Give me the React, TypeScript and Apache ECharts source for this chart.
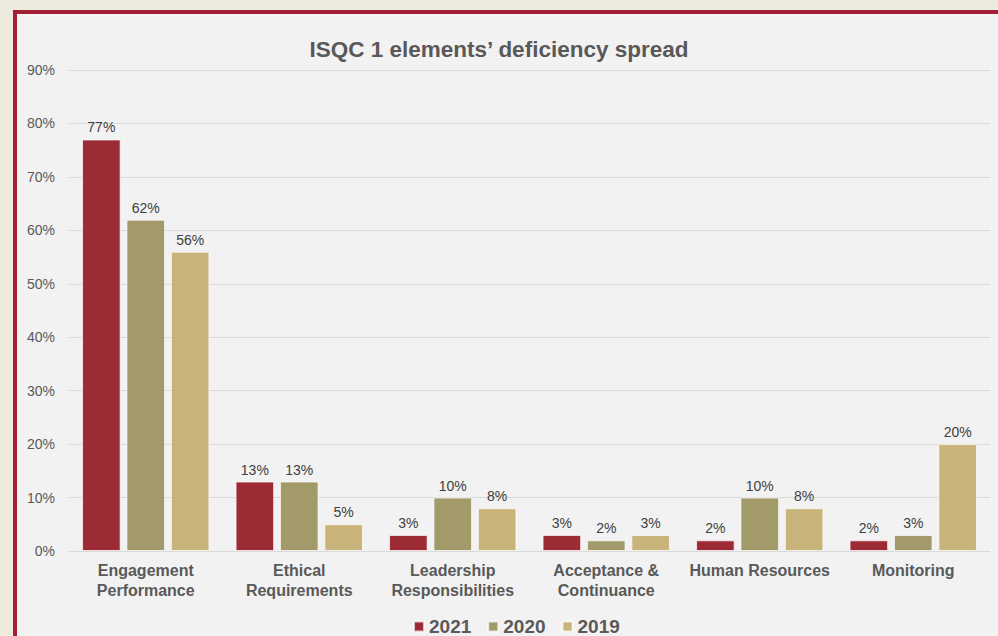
import React, { useEffect, useRef } from "react";
import * as echarts from "echarts";

const categories = [
  "Engagement\nPerformance",
  "Ethical\nRequirements",
  "Leadership\nResponsibilities",
  "Acceptance &\nContinuance",
  "Human Resources",
  "Monitoring",
];
const seriesNames = ["2021", "2020", "2019"];
const values2021 = [77, 13, 3, 3, 2, 2];
const values2020 = [62, 13, 10, 2, 10, 3];
const values2019 = [56, 5, 8, 3, 8, 20];
const colors = ["#9d2b35", "#a39a6a", "#c8b47b"];

export default function App() {
  const ref = useRef<HTMLDivElement>(null);
  useEffect(() => {
    if (!ref.current) return;
    const chart = echarts.init(ref.current, null, { renderer: "svg" });
    const data = [values2021, values2020, values2019];
    const ff = "Liberation Sans, Arial, sans-serif";
    chart.setOption({
      animation: false,
      title: {
        text: "ISQC 1 elements\u2019 deficiency spread",
        left: "center",
        top: 33,
        textStyle: {
          fontFamily: ff,
          fontSize: 22.5,
          fontWeight: "bold",
          color: "#595959",
        },
      },
      legend: {
        left: 408,
        top: 612,
        itemWidth: 10,
        itemHeight: 10,
        itemGap: 16,
        icon: "rect",
        textStyle: {
          fontFamily: ff,
          fontSize: 19,
          fontWeight: "bold",
          color: "#595959",
        },
        data: seriesNames,
      },
      grid: { left: 69, right: 8, top: 70, bottom: 85, containLabel: false },
      xAxis: {
        type: "category",
        data: categories,
        axisLine: { lineStyle: { color: "#d9d9d9" } },
        axisTick: { show: false },
        axisLabel: {
          interval: 0,
          margin: 9,
          lineHeight: 20,
          fontFamily: ff,
          fontSize: 16,
          fontWeight: "bold",
          color: "#595959",
        },
      },
      yAxis: {
        type: "value",
        min: 0,
        max: 90,
        interval: 10,
        axisLine: { show: false },
        axisTick: { show: false },
        splitLine: { lineStyle: { color: "#d9d9d9", width: 1 } },
        axisLabel: {
          formatter: "{value}%",
          margin: 14,
          fontFamily: ff,
          fontSize: 14,
          color: "#595959",
        },
      },
      series: seriesNames.map((name, i) => ({
        name,
        type: "bar",
        data: data[i],
        barGap: "15%",
        barCategoryGap: "17%",
        itemStyle: {
          color: colors[i],
          borderColor: "rgba(255,255,255,0.7)",
          borderWidth: 1,
        },
        label: {
          show: true,
          position: "top",
          distance: 5,
          formatter: "{c}%",
          fontFamily: ff,
          fontSize: 14,
          color: "#404040",
        },
      })),
    });
    return () => chart.dispose();
  }, []);

  return (
    <div
      style={{
        position: "fixed",
        left: 0,
        top: 0,
        width: 998,
        height: 636,
        background: "#ecebdd",
        overflow: "hidden",
      }}
    >
      <div
        style={{
          position: "absolute",
          left: 13,
          top: 10,
          width: 1000,
          height: 700,
          background: "#f2f2f2",
          borderLeft: "4px solid #a31f35",
          borderTop: "4px solid #a31f35",
        }}
      />
      <div
        ref={ref}
        style={{ position: "absolute", left: 0, top: 0, width: 998, height: 636 }}
      />
    </div>
  );
}
